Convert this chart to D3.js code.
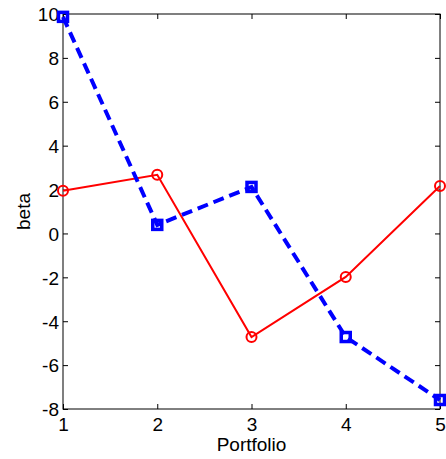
<!DOCTYPE html>
<html lang="en">
<head>
<meta charset="UTF-8">
<title>beta</title>
<script src="https://d3js.org/d3.v7.min.js"></script>
<style>
  body { margin: 0; background: #fff; }
  text { font-family: "Liberation Sans", Arial, sans-serif; fill: #000; }
</style>
</head>
<body>
<div id="chart"></div>
<script>
    // data
    const portfolios = [1, 2, 3, 4, 5];
    const redBeta = [1.95, 2.67, -4.72, -1.98, 2.16];
    const blueBeta = [9.87, 0.39, 2.12, -4.72, -7.59];
    const yTicks = [-8, -6, -4, -2, 0, 2, 4, 6, 8, 10];

    const W = 446, H = 459;
    const margin = {top: 14, right: 6, bottom: 50, left: 63},
        width = W - margin.left - margin.right,
        height = H - margin.top - margin.bottom;

    const svg = d3.select("#chart").append("svg")
        .attr("width", W).attr("height", H)
      .append("g")
        .attr("transform", `translate(${margin.left},${margin.top})`);

    const x = d3.scaleLinear().domain([1, 5]).range([0, width]);
    const y = d3.scaleLinear().domain([-8, 10]).range([height, 0]);

    const fmt = d => String(d); // plain hyphen minus like the original

    // axes, ticks inward
    const axOpts = g => g.call(g => g.select(".domain").remove())
        .call(g => g.selectAll("line").attr("stroke", "#000"))
        .call(g => g.selectAll("text").style("font-size", "19px").style("font-family", "Liberation Sans, Arial, sans-serif"));

    svg.append("g").attr("transform", `translate(0,${height})`)
        .call(d3.axisBottom(x).tickValues(portfolios).tickFormat(fmt).tickSizeInner(-5).tickPadding(9))
        .call(axOpts);
    svg.append("g")
        .call(d3.axisTop(x).tickValues(portfolios).tickFormat("").tickSizeInner(-5))
        .call(axOpts);
    svg.append("g")
        .call(d3.axisLeft(y).tickValues(yTicks).tickFormat(fmt).tickSizeInner(-5).tickPadding(4))
        .call(axOpts)
        .call(g => g.selectAll("text").attr("dy", "0.36em"));
    svg.append("g").attr("transform", `translate(${width},0)`)
        .call(d3.axisRight(y).tickValues(yTicks).tickFormat("").tickSizeInner(-5))
        .call(axOpts);

    svg.append("rect")
        .attr("width", width).attr("height", height)
        .attr("fill", "none").attr("stroke", "#000").attr("stroke-width", 1);

    const line = d3.line().x((d, i) => x(portfolios[i])).y(d => y(d));

    // red series
    svg.append("path").datum(redBeta)
        .attr("d", line).attr("fill", "none")
        .attr("stroke", "#ff0000").attr("stroke-width", 2);
    svg.selectAll(".circ").data(redBeta).join("circle")
        .attr("class", "circ")
        .attr("cx", (d, i) => x(portfolios[i])).attr("cy", d => y(d))
        .attr("r", 5).attr("fill", "none")
        .attr("stroke", "#ff0000").attr("stroke-width", 2);

    // blue series
    svg.append("path").datum(blueBeta)
        .attr("d", line).attr("fill", "none")
        .attr("stroke", "#0000ff").attr("stroke-width", 4)
        .attr("stroke-dasharray", "11,6");
    svg.selectAll(".sq").data(blueBeta).join("rect")
        .attr("class", "sq")
        .attr("x", (d, i) => x(portfolios[i]) - 4.5).attr("y", d => y(d) - 4.5)
        .attr("width", 9).attr("height", 9).attr("fill", "none")
        .attr("stroke", "#0000ff").attr("stroke-width", 3.5);

    // labels
    svg.append("text")
        .attr("x", width / 2).attr("y", height + 42)
        .attr("text-anchor", "middle").style("font-size", "19px")
        .text("Portfolio");
    svg.append("text")
        .attr("transform", `translate(${-33},${height / 2}) rotate(-90)`)
        .attr("text-anchor", "middle").style("font-size", "19px")
        .text("beta");
</script>
</body>
</html>
